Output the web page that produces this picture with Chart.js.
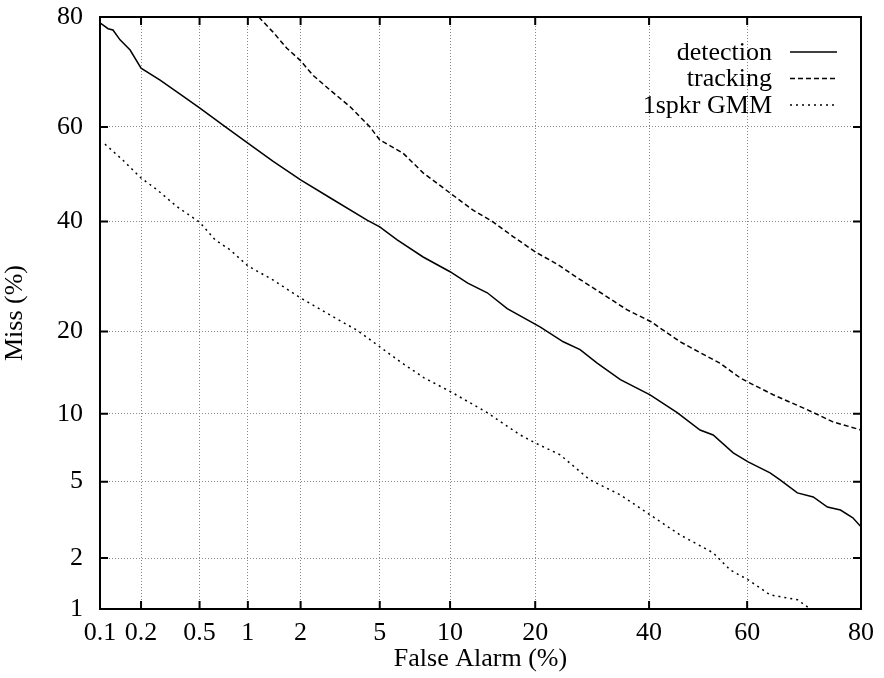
<!DOCTYPE html>
<html>
<head>
<meta charset="utf-8">
<script src="https://cdn.jsdelivr.net/npm/chart.js@4"></script>
<style>
  html, body { margin:0; padding:0; background:#fff; }
  #wrap { width:884px; height:678px; }
</style>
</head>
<body>
<div id="wrap"><canvas id="det" width="884" height="678"></canvas></div>
<script>
// DET curves, values in percent
const xTickVals = [0.1, 0.2, 0.5, 1, 2, 5, 10, 20, 40, 60, 80];
const yTickVals = [1, 2, 5, 10, 20, 40, 60, 80];

const detFA   = [0.1,0.115,0.125,0.141,0.167,0.2,0.272,0.372,0.5,0.73,1.0,1.40,2.0,2.86,4.36,5.0,6.0,7.77,10,11.7,13.8,16.2,20.7,24.3,27.1,30.1,34.4,40.2,45.7,50.4,53.1,57.2,60.2,64.5,66.4,69.6,72.4,74.8,76.9,78.8,80];
const detMiss = [79.1,78.2,78.0,76.4,74.7,71.5,69.3,66.6,63.9,60.0,56.6,52.8,48.8,45.0,40.3,38.9,36.3,32.9,30.1,28.0,26.3,23.6,20.7,18.5,17.4,15.6,13.6,11.9,10.1,8.56,8.15,6.80,6.19,5.50,5.10,4.41,4.21,3.75,3.62,3.30,2.96];

const trkFA   = [1.0,1.16,1.40,1.68,1.99,2.33,2.86,3.61,4.50,5.0,6.37,7.77,10,12.25,14.5,17.0,20,23.5,25.9,31.9,35.7,40.4,46.3,50.4,54.5,58.6,60.2,65.1,71.3,75.7,80];
const trkMiss = [81.7,80.0,77.7,75.0,72.9,70.2,67.4,64.1,60.0,57.3,54.5,50.3,46.0,42.4,39.9,36.9,33.9,31.4,29.5,25.6,23.4,21.5,18.5,17.0,15.6,13.8,13.3,11.9,10.4,9.26,8.56];

const gmmFA   = [0.109,0.148,0.2,0.259,0.355,0.5,0.628,0.78,1.0,1.40,2.0,2.96,3.90,5.0,6.18,7.84,10.1,13.8,17.9,20,23.8,28.8,34.4,40.2,46.3,53.1,56.6,60.2,64.5,69.6,71.9,72.5];
const gmmMiss = [56.4,53.0,49.2,46.7,43.1,39.9,36.3,34.3,31.2,28.6,25.4,22.3,20.2,17.8,15.8,13.8,12.2,10.1,8.15,7.53,6.66,5.10,4.31,3.42,2.68,2.14,1.71,1.50,1.22,1.14,1.0,0.9];

// inverse normal CDF (Acklam)
function probit(p){
  const a=[-3.969683028665376e+01,2.209460984245205e+02,-2.759285104469687e+02,1.383577518672690e+02,-3.066479806614716e+01,2.506628277459239e+00];
  const b=[-5.447609879822406e+01,1.615858368580409e+02,-1.556989798598866e+02,6.680131188771972e+01,-1.328068155288572e+01];
  const c=[-7.784894002430293e-03,-3.223964580411365e-01,-2.400758277161838e+00,-2.549671348283239e+00,4.374664141464968e+00,2.938163982698783e+00];
  const d=[7.784695709041462e-03,3.224671290700398e-01,2.445134137142996e+00,3.754408661907416e+00];
  const pl=0.02425, ph=1-pl; let q,r;
  if(p<pl){ q=Math.sqrt(-2*Math.log(p)); return (((((c[0]*q+c[1])*q+c[2])*q+c[3])*q+c[4])*q+c[5])/((((d[0]*q+d[1])*q+d[2])*q+d[3])*q+1); }
  if(p<=ph){ q=p-0.5; r=q*q; return (((((a[0]*r+a[1])*r+a[2])*r+a[3])*r+a[4])*r+a[5])*q/(((((b[0]*r+b[1])*r+b[2])*r+b[3])*r+b[4])*r+1); }
  q=Math.sqrt(-2*Math.log(1-p)); return -(((((c[0]*q+c[1])*q+c[2])*q+c[3])*q+c[4])*q+c[5])/((((d[0]*q+d[1])*q+d[2])*q+d[3])*q+1);
}
const pts = (fa, miss) => fa.map((v,i) => ({ x: probit(v/100), y: probit(miss[i]/100) }));

const SERIF = '"Liberation Serif", "Times New Roman", serif';

// gnuplot-ish frame with inward tick marks, plus the key
const framePlugin = {
  id: 'frame',
  afterDatasetsDraw(chart){
    const {ctx, chartArea: a, scales} = chart;
    ctx.save();
    ctx.strokeStyle = '#000';
    ctx.lineWidth = 2;
    ctx.beginPath();
    scales.x.ticks.forEach(t => {
      const px = scales.x.getPixelForValue(t.value);
      ctx.moveTo(px, a.bottom); ctx.lineTo(px, a.bottom - 8);
      ctx.moveTo(px, a.top); ctx.lineTo(px, a.top + 8);
    });
    scales.y.ticks.forEach(t => {
      const py = scales.y.getPixelForValue(t.value);
      ctx.moveTo(a.left, py); ctx.lineTo(a.left + 8, py);
      ctx.moveTo(a.right, py); ctx.lineTo(a.right - 8, py);
    });
    ctx.stroke();
    ctx.strokeRect(a.left, a.top, a.right - a.left, a.bottom - a.top);

    ctx.font = '26px ' + SERIF;
    ctx.textAlign = 'right';
    ctx.textBaseline = 'middle';
    ctx.fillStyle = '#000';
    chart.data.datasets.forEach((ds, i) => {
      const y = 52 + i * 26.5;
      ctx.fillText(ds.label, 772, y + 1);
      ctx.setLineDash(ds.borderDash || []);
      ctx.lineWidth = ds.borderWidth;
      ctx.beginPath(); ctx.moveTo(790, y); ctx.lineTo(837, y); ctx.stroke();
    });
    ctx.restore();
  }
};

new Chart(document.getElementById('det'), {
  type: 'scatter',
  data: {
    datasets: [
      { label: 'detection', data: pts(detFA, detMiss), showLine: true, borderColor: '#000', borderWidth: 1.5, pointRadius: 0, borderDash: [] },
      { label: 'tracking', data: pts(trkFA, trkMiss), showLine: true, borderColor: '#000', borderWidth: 1.5, pointRadius: 0, borderDash: [5, 3] },
      { label: '1spkr GMM', data: pts(gmmFA, gmmMiss), showLine: true, borderColor: '#000', borderWidth: 1.5, pointRadius: 0, borderDash: [2, 4] }
    ]
  },
  options: {
    responsive: false,
    animation: false,
    layout: { padding: { left: 0, right: 23, top: 17, bottom: 0 } },
    plugins: { legend: { display: false }, tooltip: { enabled: false } },
    scales: {
      x: {
        type: 'linear',
        min: probit(0.001), max: probit(0.8),
        afterBuildTicks: s => { s.ticks = xTickVals.map(v => ({ value: probit(v/100) })); },
        afterFit: s => { s.height = 69; s.paddingLeft = 0; s.paddingRight = 0; },
        ticks: { autoSkip: false, maxRotation: 0, padding: 9, color: '#000',
                 font: { family: SERIF, size: 26 },
                 callback: (v, i) => String(xTickVals[i]) },
        grid: { color: '#888', lineWidth: 1, drawTicks: false },
        border: { display: false, dash: [1, 2] },
        title: { display: true, text: 'False Alarm (%)', color: '#000',
                 font: { family: SERIF, size: 26 }, padding: { top: 0, bottom: 3 } }
      },
      y: {
        type: 'linear',
        min: probit(0.01), max: probit(0.8),
        afterBuildTicks: s => { s.ticks = yTickVals.map(v => ({ value: probit(v/100) })); },
        afterFit: s => { s.width = 100; s.paddingTop = 0; s.paddingBottom = 0; },
        ticks: { autoSkip: false, padding: 17, color: '#000',
                 font: { family: SERIF, size: 26 },
                 callback: (v, i) => String(yTickVals[i]) },
        grid: { color: '#888', lineWidth: 1, drawTicks: false },
        border: { display: false, dash: [1, 2] },
        title: { display: true, text: 'Miss (%)', color: '#000',
                 font: { family: SERIF, size: 26 }, padding: { top: 0, bottom: 0 } }
      }
    }
  },
  plugins: [framePlugin]
});
</script>
</body>
</html>
